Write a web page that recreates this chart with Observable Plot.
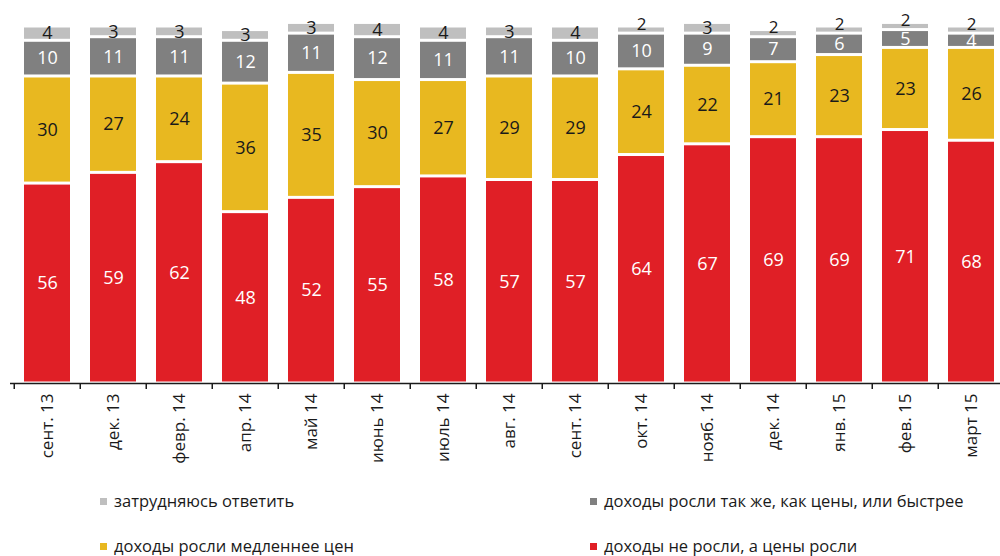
<!DOCTYPE html>
<html><head><meta charset="utf-8">
<script src="https://cdn.jsdelivr.net/npm/d3@7"></script>
<script src="https://cdn.jsdelivr.net/npm/@observablehq/plot@0.6"></script>
<style>
body{margin:0;background:#fff;font-family:"Open Sans",sans-serif;}
#wrap{position:relative;width:1000px;height:556px;overflow:hidden;}
.leg{position:absolute;font-size:16.5px;color:#1a1a1a;white-space:nowrap;line-height:20px;}
.leg i{display:inline-block;width:7px;height:7px;margin-right:7px;vertical-align:2px;}
</style></head>
<body><div id="wrap"></div>
<script>
const categories = ["сент. 13","дек. 13","февр. 14","апр. 14","май 14","июнь 14","июль 14","авг. 14","сент. 14","окт. 14","нояб. 14","дек. 14","янв. 15","фев. 15","март 15"];
const seriesNames = ["доходы не росли, а цены росли","доходы росли медленнее цен","доходы росли так же, как цены, или быстрее","затрудняюсь ответить"];
const seriesColors = ["#e01f26","#e8b820","#808080","#bfbfbf"];
const labelColors = ["#ffffff","#1a1a1a","#ffffff","#1a1a1a"];
const notGrown = [56,59,62,48,52,55,58,57,57,64,67,69,69,71,68];
const slower = [30,27,24,36,35,30,27,29,29,24,22,21,23,23,26];
const sameOrFaster = [10,11,11,12,11,12,11,11,10,10,9,7,6,5,4];
const hardToSay = [4,3,3,3,3,4,4,3,4,2,3,2,2,2,2];

const seriesValues = [notGrown, slower, sameOrFaster, hardToSay];
const data = [];
seriesNames.forEach((s, si) => categories.forEach((c, ci) => data.push({cat: c, series: s, si, value: seriesValues[si][ci]})));

const xRange = [10, 1007.5];
const step = (xRange[1] - xRange[0]) / categories.length;
const font = '"Open Sans",sans-serif';
const stackOpts = {x: "cat", y: "value", z: "series", order: seriesNames};
const raised = d => d.si === 3 && d.value <= 2;

const chart = Plot.plot({
  width: 1000, height: 470,
  marginTop: 26, marginBottom: 87, marginLeft: 10, marginRight: 0,
  style: {fontFamily: font, fontSize: "17px", background: "white", color: "#1a1a1a"},
  x: {domain: categories, range: xRange, paddingInner: 0.31, paddingOuter: 0.155, align: 0.5, label: null},
  y: {domain: [0, 100], axis: null},
  color: {type: "identity"},
  marks: [
    Plot.barY(data, Plot.stackY({...stackOpts, fill: d => seriesColors[d.si], insetTop: 1.5, insetBottom: 1.5})),
    Plot.text(data, Plot.stackY({...stackOpts, text: d => raised(d) ? null : String(d.value), fill: d => labelColors[d.si], fontSize: 18})),
    Plot.text(data, Plot.stackY({...stackOpts, text: d => raised(d) ? String(d.value) : null, fill: d => labelColors[d.si], fontSize: 17, dy: -6})),
    Plot.ruleY([0], {stroke: "#1a1a1a", strokeWidth: 1.5}),
    Plot.axisX({tickSize: 6, tickFormat: () => "", dx: -step / 2, stroke: "#1a1a1a", strokeWidth: 1.5, label: null}),
    Plot.axisX({tickSize: 0, tickPadding: 10, tickRotate: -90, fontSize: 17, fill: "#1a1a1a", label: null})
  ]
});
const wrap = document.getElementById("wrap");
wrap.appendChild(chart);
const pos = [[590, 536],[100, 536],[590, 491],[100, 491]];
seriesNames.forEach((s, i) => {
  const d = document.createElement("div");
  d.className = "leg";
  d.style.left = pos[i][0] + "px"; d.style.top = pos[i][1] + "px";
  d.innerHTML = `<i style="background:${seriesColors[i]}"></i>${s}`;
  wrap.appendChild(d);
});
</script></body></html>
